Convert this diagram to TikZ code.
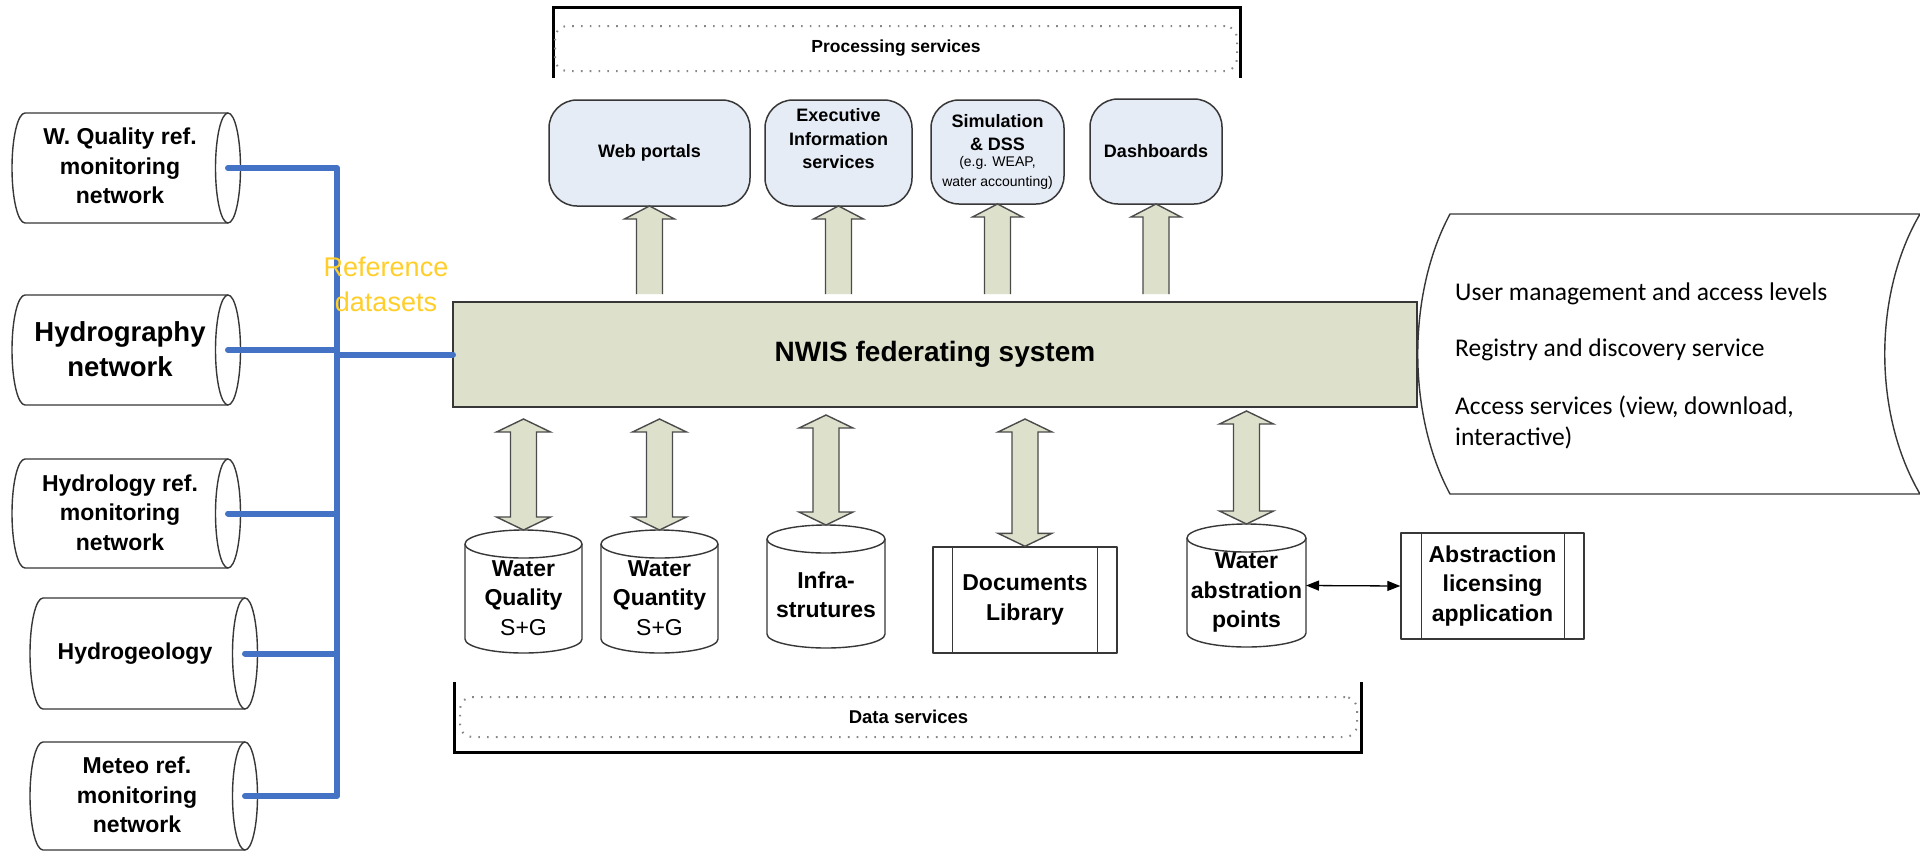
\documentclass[tikz,border=0pt]{standalone}
\usepackage{fontspec}
\setmainfont{Liberation Sans}
\newfontfamily\calibfont{Carlito}
\usetikzlibrary{calc,arrows.meta}

\definecolor{boxfill}{RGB}{230,236,246}
\definecolor{olivefill}{RGB}{221,224,202}
\definecolor{outlinegray}{RGB}{55,55,55}
\definecolor{busblue}{RGB}{68,114,196}
\definecolor{refyellow}{RGB}{255,206,40}
\definecolor{dotgray}{RGB}{135,135,135}

\tikzset{
  outl/.style={draw=outlinegray, line width=1.4pt, line join=round},
  cylbody/.style={inner sep=0pt, outer sep=0pt, draw=none},
  pbox/.style={draw=outlinegray, line width=1.5pt, fill=boxfill, rounded corners=28pt,
    inner sep=0pt, outer sep=0pt, align=center, font=\fontsize{18}{23.5}\selectfont\bfseries},
  nwisbox/.style={draw=outlinegray, line width=1.8pt, fill=olivefill, inner sep=0pt, outer sep=0pt,
    font=\fontsize{28}{34}\selectfont\bfseries},
  dotbox/.style={draw=dotgray, line width=2pt, dash pattern=on 1.6pt off 7.2pt, rounded corners=12pt,
    inner sep=0pt, outer sep=0pt, font=\fontsize{17.5}{21}\selectfont\bfseries},
  bracket/.style={draw=black, line width=3pt, line join=miter},
  bus/.style={draw=busblue, line width=6pt, line cap=round, line join=round},
  blkline/.style={draw=outlinegray!90, line width=1.4pt, line join=miter},
  thinarr/.style={draw=black, line width=1.3pt, {Triangle[length=13pt,width=10pt]}-{Triangle[length=13pt,width=10pt]}},
  ptext/.style={align=center, inner sep=0pt, font=\fontsize{18}{23.5}\selectfont\bfseries},
  smalltext/.style={align=center, inner sep=0pt, font=\fontsize{14}{20}\selectfont},
  ltext/.style={align=center, inner sep=0pt, font=\fontsize{23}{29.5}\selectfont\bfseries},
  dtext/.style={align=center, inner sep=0pt, font=\fontsize{23}{29.5}\selectfont\bfseries},
  paneltext/.style={align=left, anchor=west, inner sep=0pt, font=\calibfont\fontsize{25.5}{31}\selectfont},
  reftext/.style={align=center, inner sep=0pt, text=refyellow, font=\fontsize{27}{35}\selectfont},
}

% horizontal cylinder lying on its side, open end on the right
\newcommand\hcyl[5]{%
  \node[cylbody, minimum width={(#3-#2)*1pt}, minimum height={(#5-#4)*1pt}] (#1) at ({(#2+#3)/2},{(#4+#5)/2}) {};
  \pgfmathsetmacro\cylry{(#5-#4)/2}%
  \draw[outl, fill=white] (#1.south east) -- (#1.south west)
    arc[start angle=270, end angle=90, x radius=13pt, y radius=\cylry pt] -- (#1.north east);
  \draw[outl] (#1.east) ellipse[x radius=12.5pt, y radius=\cylry pt];
}
% upright cylinder (data store)
\newcommand\vcyl[5]{%
  \node[cylbody, minimum width={(#3-#2)*1pt}, minimum height={(#5-#4)*1pt}] (#1) at ({(#2+#3)/2},{(#4+#5)/2}) {};
  \pgfmathsetmacro\cylrx{(#3-#2)/2}%
  \draw[outl, fill=white] ([yshift=-14pt]#1.north west) -- ([yshift=14pt]#1.south west)
    arc[start angle=180, end angle=360, x radius=\cylrx pt, y radius=14pt] -- ([yshift=-14pt]#1.north east);
  \draw[outl] ([yshift=-14pt]#1.north) ellipse[x radius=\cylrx pt, y radius=14pt];
}
% single block arrow pointing up: #1 tail, #2 tip
\newcommand\upblock[2]{%
  \fill[olivefill] let \p1=(#1), \p2=(#2) in
    (\x2-13pt,\y1) -- (\x2-13pt,\y2-13pt) -- (\x2-25pt,\y2-13pt) -- (\x2,\y2)
    -- (\x2+25pt,\y2-13pt) -- (\x2+13pt,\y2-13pt) -- (\x2+13pt,\y1) -- cycle;
  \draw[blkline] let \p1=(#1), \p2=(#2) in
    (\x2-13pt,\y1) -- (\x2-13pt,\y2-13pt) -- (\x2-25pt,\y2-13pt) -- (\x2,\y2)
    -- (\x2+25pt,\y2-13pt) -- (\x2+13pt,\y2-13pt) -- (\x2+13pt,\y1);
}
% double-headed block arrow: #1 lower tip, #2 upper tip
\newcommand\dblblock[2]{%
  \filldraw[blkline, fill=olivefill] let \p1=(#1), \p2=(#2) in
    (\x2,\y2) -- (\x2+27pt,\y2-13pt) -- (\x2+13pt,\y2-13pt) -- (\x2+13pt,\y1+13pt)
    -- (\x2+27pt,\y1+13pt) -- (\x2,\y1) -- (\x2-27pt,\y1+13pt) -- (\x2-13pt,\y1+13pt)
    -- (\x2-13pt,\y2-13pt) -- (\x2-27pt,\y2-13pt) -- cycle;
}

\begin{document}
\begin{tikzpicture}[x=1pt,y=-1pt]
\useasboundingbox (0,0) rectangle (1920,852);
\fill[white] (0,0) rectangle (1920,852);

% ---- processing services frame ----
\draw[bracket] (553,78) -- (553,7) -- (1240,7) -- (1240,78);
\node[dotbox, minimum width=682pt, minimum height=45pt] (proc) at (896,48.5) {Processing services};

% ---- data services frame ----
\draw[bracket] (454,682) -- (454,752) -- (1361,752) -- (1361,682);
\node[dotbox, minimum width=897pt, minimum height=40pt, font=\fontsize{18.5}{22}\selectfont\bfseries] (datasrv) at (908.5,717) {Data services};

% ---- central federating system ----
\node[nwisbox, minimum width=964pt, minimum height=105pt] (nwis) at (935,354.5) {NWIS federating system};

% ---- processing applications ----
\node[pbox, minimum width=201pt, minimum height=106pt] (web) at (649.5,153) {Web portals};
\node[pbox, minimum width=147pt, minimum height=106pt] (exec) at (838.5,153) {};
\node[ptext] (exect) at (838.5,139) {Executive\\Information\\services};
\node[pbox, minimum width=133pt, minimum height=104pt] (sim) at (997.5,152) {};
\node[ptext] (simt) at (997.5,132.5) {Simulation\\\& DSS};
\node[smalltext] (sims) at (997.5,173) {(e.g. WEAP,\\water accounting)};
\node[pbox, minimum width=132pt, minimum height=105pt] (dash) at (1156,151.5) {Dashboards};

\upblock{$(web.south |- nwis.north)+(0,-8)$}{web.south}
\upblock{$(exec.south |- nwis.north)+(0,-8)$}{exec.south}
\upblock{$(sim.south |- nwis.north)+(0,-8)$}{sim.south}
\upblock{$(dash.south |- nwis.north)+(0,-8)$}{dash.south}

% ---- data stores ----
\vcyl{wq}{465}{582}{530}{653}
\node[dtext] (wqt) at (523.5,598) {Water\\Quality\\{\mdseries S+G}};
\vcyl{wqn}{601}{718}{530}{653}
\node[dtext] (wqnt) at (659.5,598) {Water\\Quantity\\{\mdseries S+G}};
\vcyl{inf}{767}{885}{525}{648}
\node[dtext] (inft) at (826,595) {Infra-\\strutures};
\node[outl, dtext, minimum width=184pt, minimum height=106pt] (docs) at (1025,600) {Documents\\Library};
\draw[outl] ([xshift=20pt]docs.north west) -- ([xshift=20pt]docs.south west);
\draw[outl] ([xshift=-20pt]docs.north east) -- ([xshift=-20pt]docs.south east);
\vcyl{wap}{1187}{1306}{524}{647}
\node[dtext] (wapt) at (1246.5,592.5) {Water\\abstration\\points};
\node[outl, dtext, minimum width=183pt, minimum height=106pt] (abs) at (1492.5,586) {Abstraction\\licensing\\application};
\draw[outl] ([xshift=21pt]abs.north west) -- ([xshift=21pt]abs.south west);
\draw[outl] ([xshift=-20pt]abs.north east) -- ([xshift=-20pt]abs.south east);

\dblblock{wq.north}{$(wq.north |- nwis.south)+(0,12)$}
\dblblock{wqn.north}{$(wqn.north |- nwis.south)+(0,12)$}
\dblblock{inf.north}{$(inf.north |- nwis.south)+(0,8)$}
\dblblock{docs.north}{$(docs.north |- nwis.south)+(0,12)$}
\dblblock{wap.north}{$(wap.north |- nwis.south)+(0,4)$}

\draw[thinarr] (wap.east) -- (abs.west);

% ---- reference datasets ----
\hcyl{c1}{25}{228}{113}{223}
\node[ltext] (c1t) at (120,166) {W. Quality ref.\\monitoring\\network};
\hcyl{c2}{25}{228}{295}{405}
\node[ltext, font=\fontsize{27.5}{35}\selectfont\bfseries] (c2t) at (120,349.5) {Hydrography\\network};
\hcyl{c3}{25}{228}{459}{568}
\node[ltext] (c3t) at (120,512.5) {Hydrology ref.\\monitoring\\network};
\hcyl{c4}{43}{245}{598}{709}
\node[ltext] (c4t) at (135,653.5) {Hydrogeology};
\hcyl{c5}{43}{245}{742}{850}
\node[ltext] (c5t) at (137,795) {Meteo ref.\\monitoring\\network};

\coordinate (trunk) at (337,796);
\draw[bus] (c1.east) -| (trunk) -- (c5.east);
\draw[bus] (c2.east) -- (c2.east -| trunk);
\draw[bus] (c3.east) -- (c3.east -| trunk);
\draw[bus] (c4.east) -- (c4.east -| trunk);
\draw[bus] (nwis.west -| trunk) -- (nwis.west);
\node[reftext] (refds) at (386,284.5) {Reference\\datasets};

% ---- shared services panel ----
\draw[outl, fill=white] (1450,214) -- (1920,214)
  .. controls (1873,294) and (1873,414) .. (1920,494) -- (1450,494)
  .. controls (1407,414) and (1407,294) .. (1450,214) -- cycle;
\node[paneltext] (um) at (1455,294) {User management and access levels};
\node[paneltext] (rd) at (1455,350) {Registry and discovery service};
\node[paneltext] (as) at (1455,422.5) {Access services (view, download,\\interactive)};
\end{tikzpicture}
\end{document}
